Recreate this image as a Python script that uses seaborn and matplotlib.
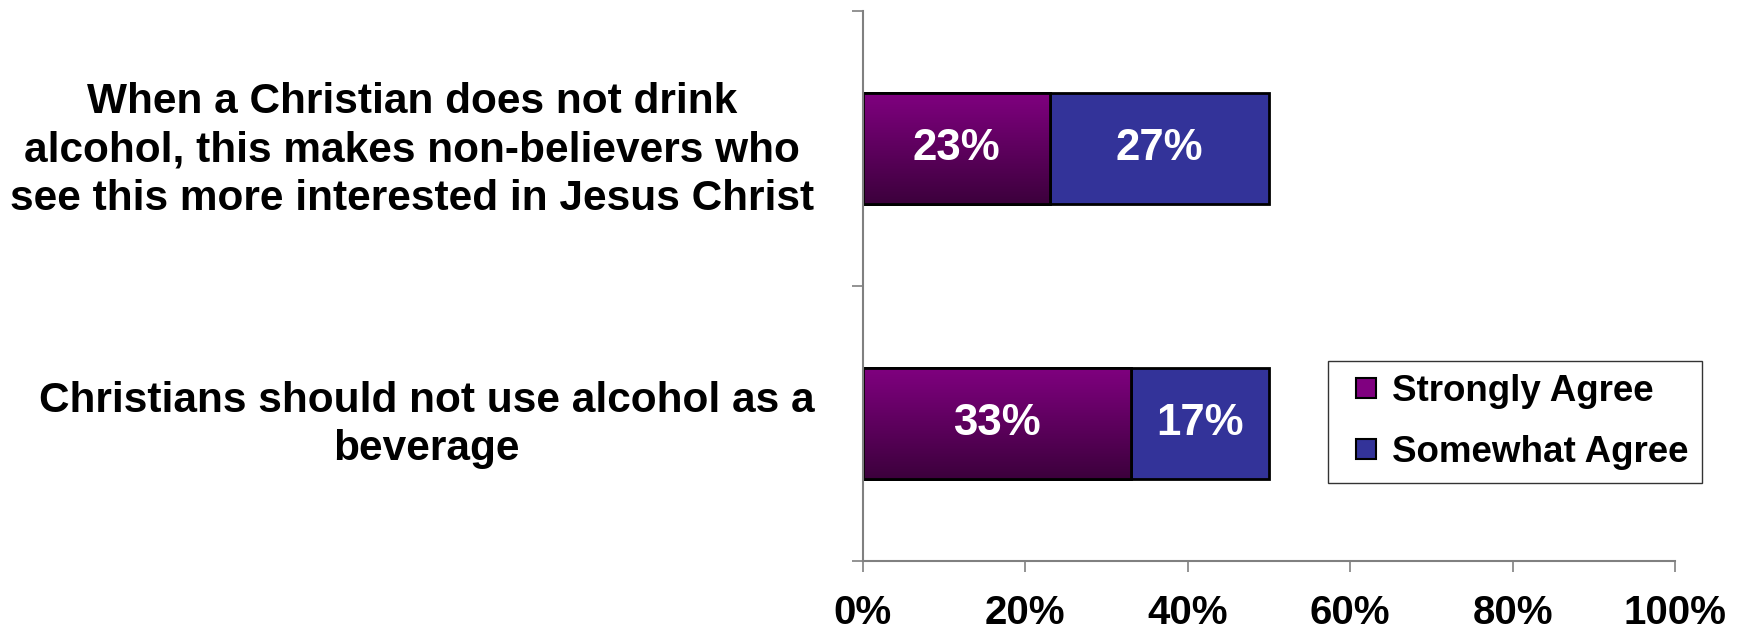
import matplotlib
matplotlib.use("Agg")
import matplotlib.pyplot as plt
import matplotlib.transforms as mtransforms
import seaborn as sns
import numpy as np
import pandas as pd
from matplotlib.lines import Line2D
from matplotlib.colors import LinearSegmentedColormap

categories = [
    "When a Christian does not drink\nalcohol, this makes non-believers who\nsee this more interested in Jesus Christ",
    "Christians should not use alcohol as a\nbeverage",
]
strongly = [23, 33]
somewhat = [27, 17]
series_names = ["Strongly Agree", "Somewhat Agree"]
xticks = [0, 20, 40, 60, 80, 100]
xticklabels = ["0%", "20%", "40%", "60%", "80%", "100%"]

purple_top = "#800080"
purple_bot = "#3c003c"
blue = "#333399"

sns.set_theme(style="white")
plt.rcParams['font.family'] = ['Liberation Sans', 'DejaVu Sans']
plt.rcParams['text.color'] = 'black'
plt.rcParams['xtick.color'] = 'black'
plt.rcParams['ytick.color'] = 'black'

fig = plt.figure(figsize=(17.42, 6.37), dpi=100)
ax = fig.add_axes([0.4954, 0.1193, 0.9616 - 0.4954, 0.9827 - 0.1193])

df = pd.DataFrame({"cat": categories, "strong": strongly, "some": somewhat})
df["total"] = df["strong"] + df["some"]

sns.barplot(data=df, y="cat", x="total", orient="h", color=blue, width=0.405,
            edgecolor="black", linewidth=2, saturation=1, ax=ax)
n_before = len(ax.patches)
sns.barplot(data=df, y="cat", x="strong", orient="h", color=purple_top, width=0.405,
            edgecolor="black", linewidth=2, saturation=1, ax=ax)

# gradient for purple bars
cmap = LinearSegmentedColormap.from_list("pg", [purple_top, purple_bot])
grad = np.linspace(0, 1, 256).reshape(-1, 1)
for p in ax.patches[n_before:]:
    x0, y0 = p.get_x(), p.get_y()
    w, h = p.get_width(), p.get_height()
    im = ax.imshow(grad, cmap=cmap, aspect="auto",
                   extent=(x0, x0 + w, y0 + h, y0), origin="upper", zorder=p.get_zorder() + 0.1)
    im.set_clip_path(p)
    ax.add_patch(plt.Rectangle((x0, y0), w, h, fill=False, edgecolor="black",
                               linewidth=2, zorder=p.get_zorder() + 0.2))

# value labels
for i in range(len(categories)):
    ax.text(strongly[i] / 2, i, f"{strongly[i]}%", ha="center", va="center",
            color="white", fontsize=31.5, fontweight="bold", zorder=5)
    ax.text(strongly[i] + somewhat[i] / 2, i, f"{somewhat[i]}%", ha="center", va="center",
            color="white", fontsize=31.5, fontweight="bold", zorder=5)

ax.set_xlim(0, 100)
ax.set_ylim(1.5, -0.5)
ax.set_xticks(xticks)
ax.set_xticklabels(xticklabels, fontsize=29, fontweight="bold")
ax.set_yticks([0, 1])
ax.set_yticklabels(categories, fontsize=30.5, fontweight="bold", ha="right",
                   multialignment="center", linespacing=1.27)
ax.set_yticks([-0.5, 0.5, 1.5], minor=True)
ax.tick_params(axis="y", which="major", length=0, pad=35)
ax.tick_params(axis="y", which="minor", length=8, width=1.2, color="#808080", left=True, direction="out")
ax.tick_params(axis="x", which="major", length=8, width=1.2, color="#808080", bottom=True,
               direction="out", pad=16)
# nudge category labels slightly upward
offset = mtransforms.ScaledTranslation(0, 5 / 72, fig.dpi_scale_trans)
for lab in ax.get_yticklabels():
    lab.set_transform(lab.get_transform() + offset)
ax.set_xlabel("")
ax.set_ylabel("")
for s in ["top", "right"]:
    ax.spines[s].set_visible(False)
for s in ["left", "bottom"]:
    ax.spines[s].set_color("#808080")
    ax.spines[s].set_linewidth(1.5)
ax.grid(False)

handles = [Line2D([], [], linestyle="none", marker="s", markersize=14,
                  markerfacecolor=purple_top, markeredgecolor="black", markeredgewidth=1.5),
           Line2D([], [], linestyle="none", marker="s", markersize=14,
                  markerfacecolor=blue, markeredgecolor="black", markeredgewidth=1.5)]
leg = ax.legend(handles, series_names, loc="upper left",
                bbox_to_anchor=((1328 - 863) / (1675 - 863), (561 - 361) / (561 - 11)),
                prop={"weight": "bold", "size": 26.5}, frameon=True, fancybox=False,
                edgecolor="black", handlelength=1.35, handletextpad=0.05,
                borderpad=0.35, labelspacing=0.7, borderaxespad=0)
leg.get_frame().set_linewidth(1.0)
for t in leg.get_texts():
    t.set_color("black")

fig.savefig("out.png", dpi=100)
